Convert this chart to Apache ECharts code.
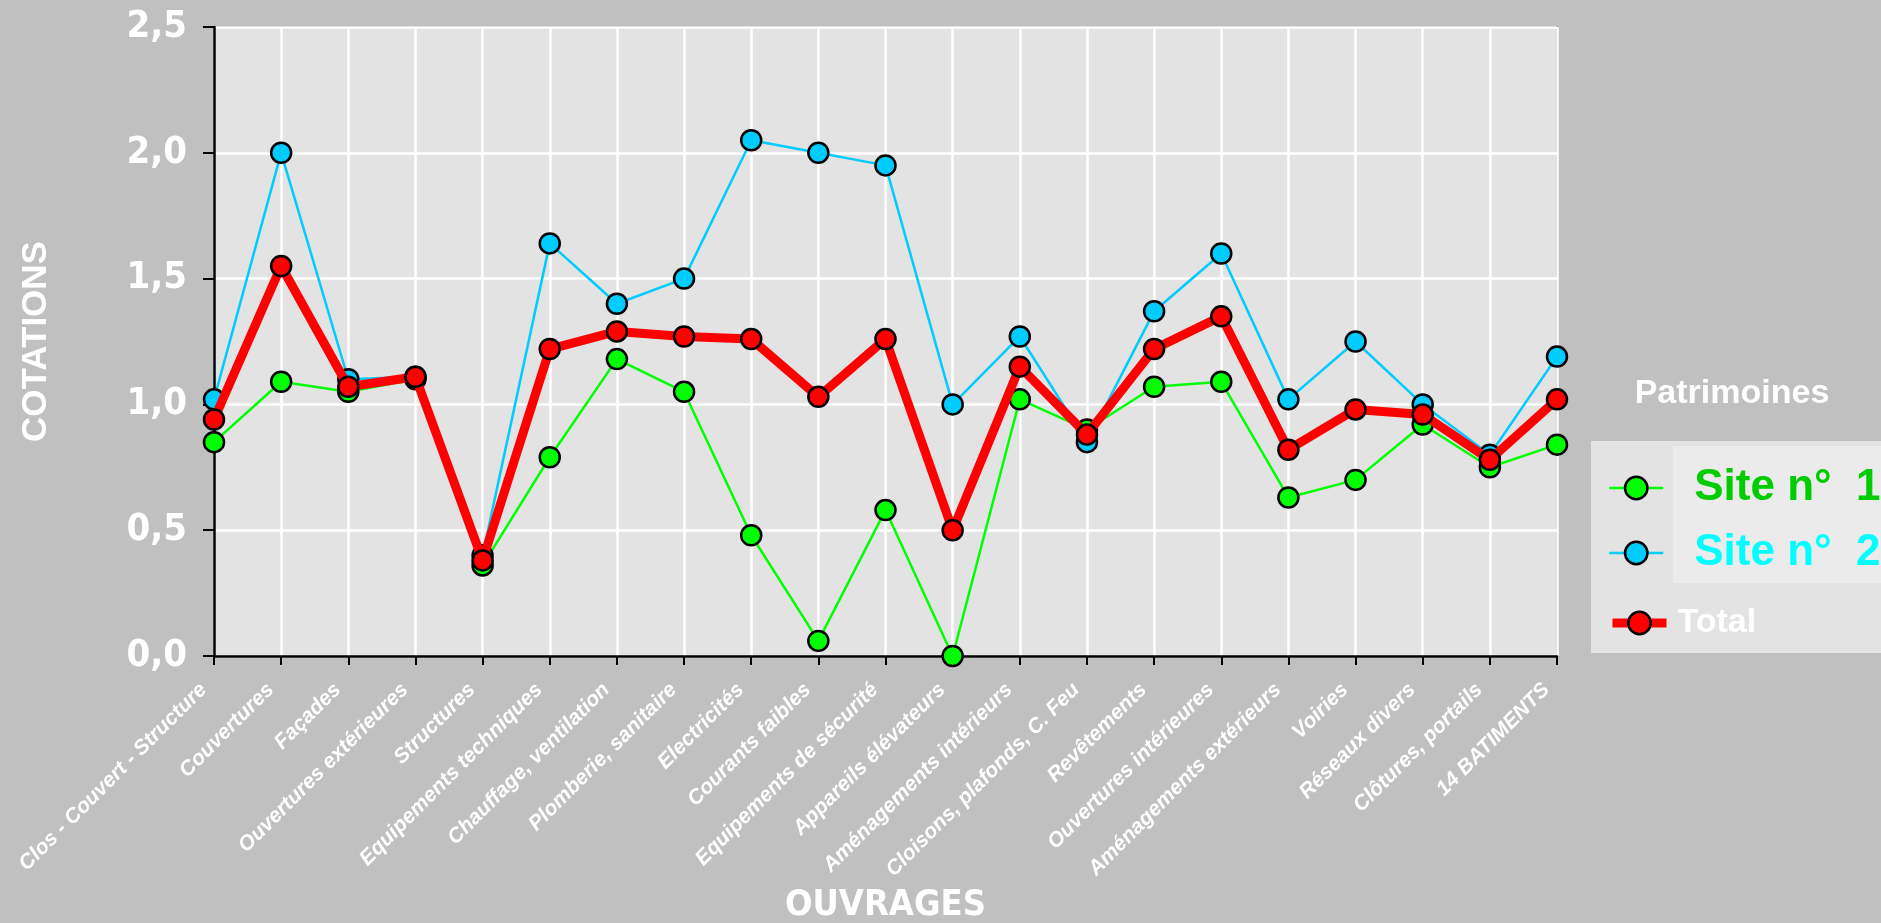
<!DOCTYPE html>
<html>
<head>
<meta charset="utf-8">
<script src="https://cdn.jsdelivr.net/npm/echarts@6/dist/echarts.min.js"></script>
<style>
html,body{margin:0;padding:0;background:#c0c0c0;}
#chart{width:1881px;height:923px;}
</style>
</head>
<body>
<div id="chart"></div>
<script>
const categories = ['Clos - Couvert - Structure','Couvertures','Façades','Ouvertures extérieures','Structures','Equipements techniques','Chauffage, ventilation','Plomberie, sanitaire','Electricités','Courants faibles','Equipements de sécurité','Appareils élévateurs','Aménagements intérieurs','Cloisons, plafonds, C. Feu','Revêtements','Ouvertures intérieures','Aménagements extérieurs','Voiries','Réseaux divers','Clôtures, portails','14 BATIMENTS'];
const site1 = [0.85,1.09,1.05,1.10,0.36,0.79,1.18,1.05,0.48,0.06,0.58,0.00,1.02,0.90,1.07,1.09,0.63,0.70,0.92,0.75,0.84];
const site2 = [1.02,2.00,1.10,1.11,0.40,1.64,1.40,1.50,2.05,2.00,1.95,1.00,1.27,0.85,1.37,1.60,1.02,1.25,1.00,0.80,1.19];
const total = [0.94,1.55,1.07,1.11,0.38,1.22,1.29,1.27,1.26,1.03,1.26,0.50,1.15,0.88,1.22,1.35,0.82,0.98,0.96,0.78,1.02];
const seriesNames = ['Site n°  1','Site n°  2','Total'];

const chart = echarts.init(document.getElementById('chart'), null, {renderer:'canvas'});
const condensed = "'DejaVu Sans Condensed','Liberation Sans',sans-serif";
const sans = "'Liberation Sans',Arial,sans-serif";

function lineSeries(name, data, color, width, z){
  return {
    name, type:'line', data, z, clip:false,
    symbol:'circle', symbolSize:20,
    lineStyle:{color, width},
    itemStyle:{color, borderColor:'#000', borderWidth:2.5},
    emphasis:{disabled:true}, animation:false
  };
}
function legendFor(name, top, fontSize, color, padLeft, lineColor, lineWidth){
  return {
    data:[name], left:1608, top, padding:0, itemWidth:54, itemHeight:28,
    selectedMode:false,
    lineStyle:{color:lineColor, width:lineWidth},
    itemStyle:{borderColor:'#000', borderWidth:2.5},
    textStyle:{color, fontSize, fontWeight:'bold', fontFamily:sans, padding:[0,0,0,padLeft]}
  };
}

chart.setOption({
  backgroundColor:'#c0c0c0',
  animation:false,
  grid:{left:214, right:324, top:27, bottom:267, outerBoundsMode:'none', containLabel:false, show:true, backgroundColor:'#e3e3e3', borderColor:'#808080', borderWidth:2},
  graphic:[
    {type:'rect', left:1591, top:441, shape:{width:300,height:212}, style:{fill:'#e3e3e3'}, z:-1},
    {type:'rect', left:1673, top:446, shape:{width:220,height:137}, style:{fill:'#ebebeb'}, z:-1},
    {type:'text', x:1732, y:394, style:{text:'Patrimoines', fill:'#ffffff', font:"bold 34px 'Liberation Sans',Arial,sans-serif", textAlign:'center', textVerticalAlign:'middle'}}
  ],
  legend:[
    legendFor(seriesNames[0], 466, 44, '#00cc00', 26, '#00ff00', 2.5),
    legendFor(seriesNames[1], 531, 44, '#00ffff', 26, '#00ccff', 2.5),
    legendFor(seriesNames[2], 606, 34, '#ffffff', 6, '#ff0000', 9)
  ],
  xAxis:{
    type:'category', data:categories, boundaryGap:false,
    name:'OUVRAGES', nameLocation:'middle', nameGap:232,
    nameTextStyle:{color:'#fff', fontSize:36, fontWeight:'bold', fontFamily:condensed},
    axisLine:{lineStyle:{color:'#000', width:2.5}},
    axisTick:{show:true, interval:0, length:9, lineStyle:{color:'#000', width:2}},
    axisLabel:{interval:0, rotate:45, margin:20, padding:[0,15,0,0], color:'#fff', fontSize:21, fontWeight:'bold', fontStyle:'italic', fontFamily:sans},
    splitLine:{show:true, interval:0, lineStyle:{color:'#ffffff', width:2.5}}
  },
  yAxis:{
    type:'value', min:0, max:2.5, interval:0.5,
    name:'COTATIONS', nameLocation:'middle', nameGap:160,
    nameTextStyle:{color:'#fff', fontSize:35, fontWeight:'bold', fontFamily:sans},
    axisLine:{show:true, lineStyle:{color:'#000', width:2.5}},
    axisTick:{show:true, length:11, lineStyle:{color:'#000', width:2}},
    axisLabel:{margin:27, color:'#fff', fontSize:38, fontWeight:'bold', fontFamily:condensed,
      formatter:v=>v.toFixed(1).replace('.',',')},
    splitLine:{show:true, lineStyle:{color:'#ffffff', width:2.5}}
  },
  series:[
    lineSeries(seriesNames[0], site1, '#00ff00', 2.5, 2),
    lineSeries(seriesNames[1], site2, '#00ccff', 2.5, 3),
    lineSeries(seriesNames[2], total, '#ff0000', 9, 4)
  ]
});
</script>
</body>
</html>
